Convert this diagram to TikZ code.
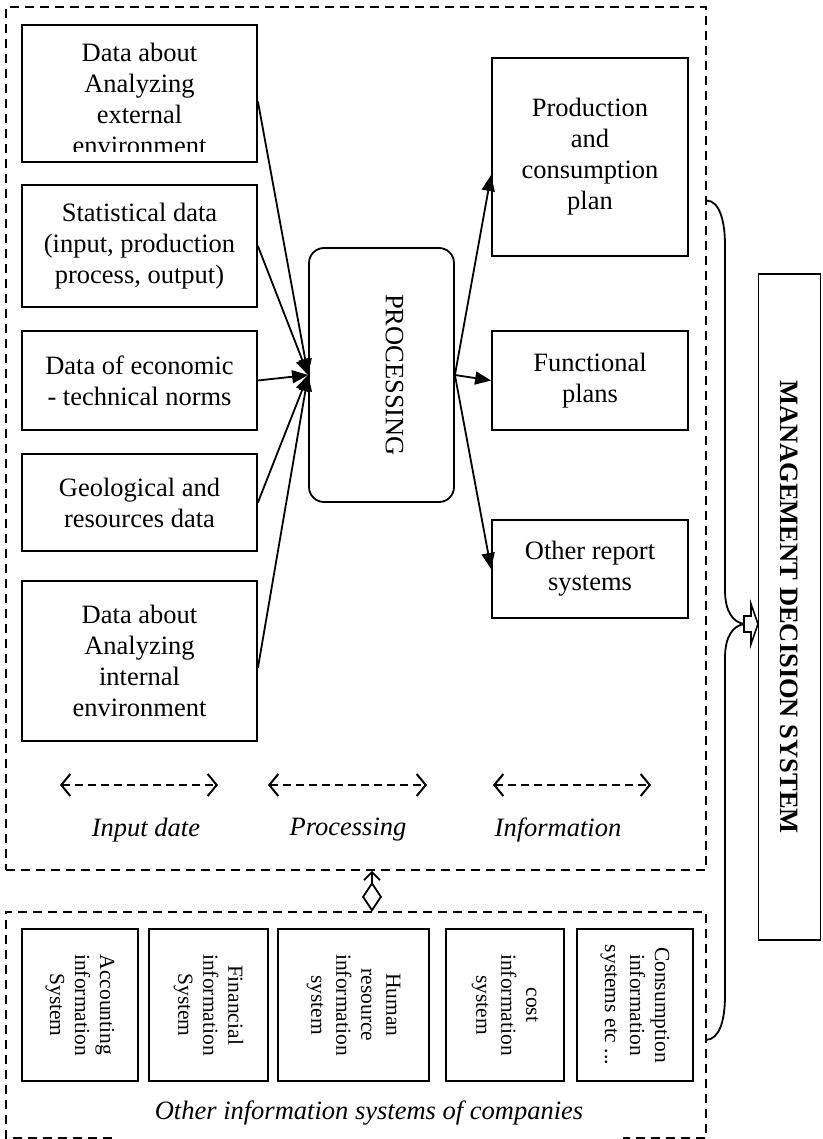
\documentclass[tikz,border=0pt]{standalone}
\usepackage{fontspec}
\setmainfont{Liberation Serif}
\usepackage{tikz}
\usetikzlibrary{arrows.meta,calc}
\newcommand{\boxfont}{\fontsize{26.5}{31}\selectfont}
\newcommand{\sysfont}{\fontsize{21.5}{25}\selectfont}

\begin{document}
\begin{tikzpicture}[x=1pt, y=-1pt,
  area/.style={draw, line width=1.7pt, dash pattern=on 9pt off 6pt, inner sep=0pt},
  databox/.style={draw, line width=1.8pt, inner sep=0pt, align=center, font=\boxfont},
  sysbox/.style={draw, line width=1.8pt, inner sep=0pt, align=center, font=\sysfont, rotate=-90},
  flow/.style={-{Triangle[length=16pt,width=13pt]}, line width=1.8pt},
  phase/.style={{Straight Barb[length=9pt,width=22pt,line width=2pt]}-{Straight Barb[length=9pt,width=22pt,line width=2pt]}, line width=1.8pt, dash pattern=on 8pt off 5pt},
  caption/.style={font=\boxfont\itshape, inner sep=0pt}
]
\useasboundingbox (0,0) rectangle (822,1139);

% Dashed areas
\node[area, minimum width=700pt, minimum height=863pt] (inputarea) at (356,438.5) {};
\node[inner sep=0pt, minimum width=700pt, minimum height=226pt] (otherarea) at (356,1025) {};
\draw[area] ($(otherarea.south west)+(106,0)$) -- (otherarea.south west) -- (otherarea.north west)
  -- (otherarea.north east) -- (otherarea.south east) -- ++(-83,0);

% Input data
\node[databox, minimum width=235pt, minimum height=137pt] (extenv) at (139.5,93.5) {};
\begin{scope}
  \clip (24,27) rectangle (255,152);
  \node[font=\boxfont, align=center, anchor=north, inner sep=0pt] (extenvtext) at (139.5,43) {Data about\\Analyzing\\external\\environment};
\end{scope}
\node[databox, minimum width=235pt, minimum height=122pt] (statdata) at (139.5,246) {Statistical data\\(input, production\\process, output)};
\node[databox, minimum width=235pt, minimum height=99pt] (norms) at (139.5,380.5) {Data of economic\\- technical norms};
\node[databox, minimum width=235pt, minimum height=97pt] (geodata) at (139.5,502.5) {Geological and\\resources data};
\node[databox, minimum width=235pt, minimum height=160pt] (intenv) at (139.5,661) {Data about\\Analyzing\\internal\\environment};

% Processing
\node[databox, rounded corners=15pt, minimum width=145pt, minimum height=254pt] (proc) at (381.5,375) {};
\node[font=\boxfont, rotate=-90, inner sep=0pt] (proctext) at ([xshift=13pt]proc.center) {PROCESSING};

% Information
\node[databox, minimum width=196pt, minimum height=198pt] (prodplan) at (590,157) {Production\\and\\consumption\\plan};
\node[databox, minimum width=196pt, minimum height=99pt] (funcplan) at (590,380.5) {Functional\\plans};
\node[databox, minimum width=196pt, minimum height=98pt] (otherrep) at (590,569) {Other report\\systems};

% Flows in and out
\draw[flow] ($(extenv.east)+(0,8)$) -- (proc.west);
\draw[flow] (statdata.east) -- (proc.west);
\draw[flow] (norms.east) -- (proc.west);
\draw[flow] (geodata.east) -- (proc.west);
\draw[flow] ($(intenv.east)+(0,7)$) -- (proc.west);
\draw[flow] (proc.east) -- ($(prodplan.west)+(0,18)$);
\draw[flow] (proc.east) -- (funcplan.west);
\draw[flow] (proc.east) -- (otherrep.west);

% Phases
\foreach \xa/\xb [count=\i] in {60/218, 268/427, 493/651} {
  \coordinate (ph\i-l) at (\xa,785);
  \coordinate (ph\i-r) at (\xb,785);
  \draw[phase] (ph\i-l) -- (ph\i-r);
}
\node[caption] (lblinput) at (146,830) {Input date};
\node[caption] (lblproc) at (348,830) {Processing};
\node[caption] (lblinfo) at (558,830) {Information};

% Other systems
\node[sysbox, minimum width=152pt, minimum height=116pt] (accsys) at (80,1005) {Accounting\\information\\System};
\node[sysbox, minimum width=152pt, minimum height=119pt] (finsys) at (208.5,1005) {Financial\\information\\System};
\node[sysbox, minimum width=152pt, minimum height=151pt] (hrsys) at (353.5,1005) {Human\\resource\\information\\system};
\node[sysbox, minimum width=152pt, minimum height=118pt] (costsys) at (505,1005) {cost\\information\\system};
\node[sysbox, minimum width=152pt, minimum height=116pt] (conssys) at (635,1005) {Consumption\\information\\systems etc ...};
\node[caption] (lblother) at (369,1113) {Other information systems of companies};

% Link between areas
\draw[line width=1.8pt, {Straight Barb[length=8pt,width=16pt]}-{Diamond[open,length=30pt,width=20pt]}]
  ([xshift=16pt]inputarea.south) -- ([xshift=16pt]otherarea.north);

% Management decision system
\node[draw, line width=1.8pt, rotate=-90, inner sep=0pt, minimum width=666pt, minimum height=62pt, font=\boxfont\bfseries] (mds) at (789.5,607) {MANAGEMENT DECISION SYSTEM};
\coordinate (bracetop) at ([yshift=238pt]inputarea.east);
\coordinate (bracebot) at ([yshift=-15pt]otherarea.east);
\coordinate (bracetip) at (744,624);
\draw[line width=1.8pt] (bracetop) .. controls (719,201) and (725,220) .. (725,245) -- (725,590)
  .. controls (725,612) and (733,622) .. (bracetip)
  .. controls (733,626) and (725,636) .. (725,658) -- (725,995)
  .. controls (725,1022) and (719,1039) .. (bracebot);
\draw[line width=1.6pt, fill=white] (744,616) -- (751,616) -- (751,604) -- (758,624)
  -- (751,644) -- (751,632) -- (744,632) -- cycle;
\end{tikzpicture}
\end{document}
